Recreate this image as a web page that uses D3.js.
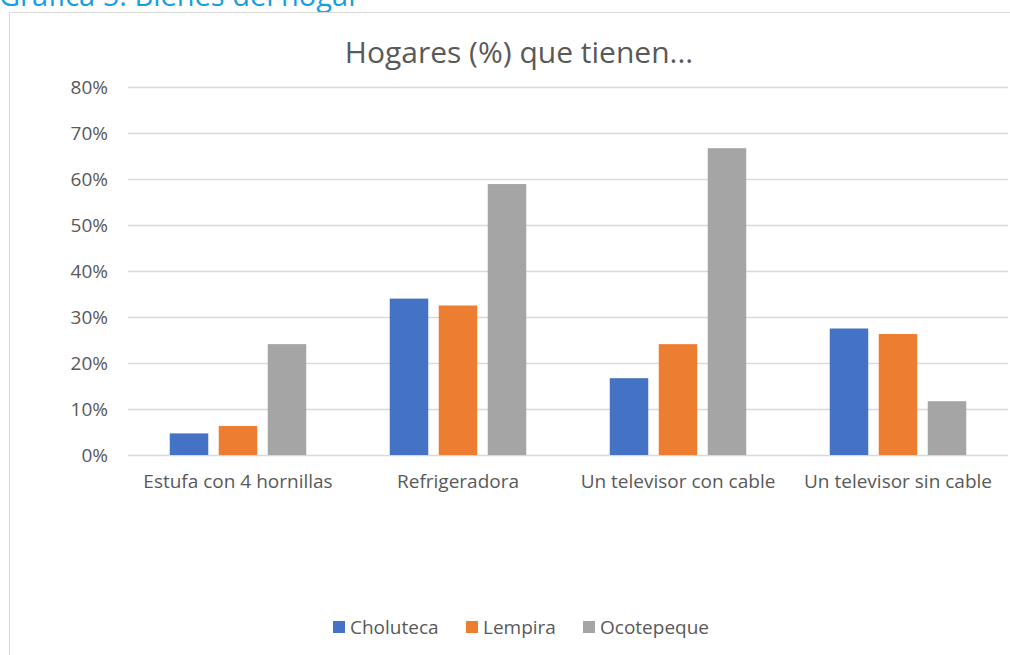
<!DOCTYPE html>
<meta charset="utf-8">
<style>
    body { margin: 0; background: #fff; }
    text { font-family: "Open Sans", "Noto Sans", sans-serif; }
</style>
<script src="https://d3js.org/d3.v7.min.js"></script>
<body>
<script>
    var categories = ["Estufa con 4 hornillas", "Refrigeradora", "Un televisor con cable", "Un televisor sin cable"];
    var seriesNames = ["Choluteca", "Lempira", "Ocotepeque"];
    var choluteca = [4.7, 34.0, 16.7, 27.5];
    var lempira = [6.3, 32.5, 24.1, 26.3];
    var ocotepeque = [24.1, 58.9, 66.7, 11.7];
    var yTicks = [0, 10, 20, 30, 40, 50, 60, 70, 80];
    var colors = ["#4472c4", "#ed7d31", "#a5a5a5"];

    var width = 1010;
    var height = 655;
    var margin = {left: 128, right: 2};

    var svg = d3.select("body").append("svg")
        .attr("width", width)
        .attr("height", height);

    // header above the chart box, cut off by the top edge
    svg.append("text")
        .attr("x", -1)
        .attr("y", 6)
        .attr("fill", "#14a0e2")
        .style("font-size", "29px")
        .text("Gráfica 5. Bienes del hogar");

    // chart frame
    svg.append("rect")
        .attr("x", 9.5)
        .attr("y", 12.5)
        .attr("width", 1010)
        .attr("height", 700)
        .attr("fill", "none")
        .attr("stroke", "#d9d9d9");

    svg.append("text")
        .attr("x", 519)
        .attr("y", 63)
        .attr("text-anchor", "middle")
        .attr("fill", "#595959")
        .style("font-size", "30px")
        .text("Hogares (%) que tienen...");

    var x = d3.scaleBand()
        .domain(categories)
        .range([margin.left, width - margin.right]);

    var xInner = d3.scaleBand()
        .domain(seriesNames)
        .range([0, x.bandwidth()])
        .paddingInner(0.214)
        .paddingOuter(0.852);

    var y = d3.scaleLinear()
        .domain([0, 80])
        .range([455, 87]);

    var yAxis = d3.axisLeft(y)
        .tickValues(yTicks)
        .tickSize(-(width - margin.right - margin.left))
        .tickPadding(20)
        .tickFormat(function(d) { return d + "%"; });

    var gy = svg.append("g")
        .attr("transform", "translate(" + margin.left + ",0)")
        .call(yAxis);
    gy.select(".domain").remove();
    gy.selectAll(".tick line").attr("stroke", "#d9d9d9").attr("stroke-width", 1.3);
    gy.selectAll(".tick text")
        .attr("fill", "#595959")
        .style("font-size", "19px");

    var data = categories.map(function(c, i) {
        return {cat: c, values: [choluteca[i], lempira[i], ocotepeque[i]]};
    });

    var groups = svg.append("g").selectAll("g")
        .data(data)
        .enter().append("g")
        .attr("transform", function(d) { return "translate(" + x(d.cat) + ",0)"; });

    groups.selectAll("rect")
        .data(function(d) { return d.values.map(function(v, j) { return {name: seriesNames[j], v: v}; }); })
        .enter().append("rect")
        .attr("x", function(d) { return xInner(d.name); })
        .attr("width", xInner.bandwidth())
        .attr("y", function(d) { return y(d.v); })
        .attr("height", function(d) { return y(0) - y(d.v); })
        .attr("fill", function(d, j) { return colors[j]; });

    var xAxis = d3.axisBottom(x).tickSize(0).tickPadding(20);
    var gx = svg.append("g")
        .attr("transform", "translate(0,455)")
        .call(xAxis);
    gx.select(".domain").remove();
    gx.selectAll(".tick text")
        .attr("fill", "#595959")
        .style("font-size", "19px");

    // legend
    var legendX = [333, 466, 583];
    var legend = svg.append("g").selectAll("g")
        .data(seriesNames)
        .enter().append("g")
        .attr("transform", function(d, i) { return "translate(" + legendX[i] + ",621)"; });
    legend.append("rect")
        .attr("width", 12)
        .attr("height", 12)
        .attr("fill", function(d, i) { return colors[i]; });
    legend.append("text")
        .attr("x", 17)
        .attr("y", 13)
        .attr("fill", "#595959")
        .style("font-size", "19px")
        .text(function(d) { return d; });
</script>
